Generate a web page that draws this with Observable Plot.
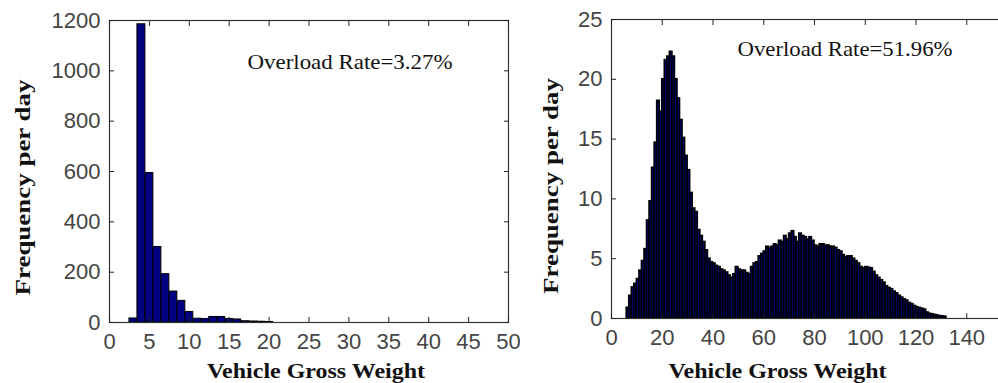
<!DOCTYPE html>
<html>
<head>
<meta charset="utf-8">
<script src="https://cdn.jsdelivr.net/npm/d3@7"></script>
<script src="https://cdn.jsdelivr.net/npm/@observablehq/plot@0.6"></script>
<style>
  html, body { margin: 0; padding: 0; background: #fff; }
  #wrap { position: relative; width: 998px; height: 383px; overflow: hidden; background: #fff; }
  #left { position: absolute; left: 0; top: 0; width: 520px; height: 383px; overflow: hidden; }
  #right { position: absolute; left: 520px; top: 0; width: 500px; height: 383px; overflow: hidden; }
  svg { overflow: hidden; }
</style>
</head>
<body>
<div id="wrap"><div id="left"></div><div id="right"></div></div>
<script>
// ---- Left panel data ----
const leftWeights = [3, 4, 5, 6, 7, 8, 9, 10, 11, 12, 13, 14, 15, 16, 17, 18, 19, 20];
const leftFreq = [16, 1185, 594, 300, 192, 123, 86, 42, 15, 14, 22, 22, 14, 12, 5, 4, 3, 2];
const leftXTicks = [0, 5, 10, 15, 20, 25, 30, 35, 40, 45, 50];
const leftYTicks = [0, 200, 400, 600, 800, 1000, 1200];
const leftNote = "Overload Rate=3.27%";

// ---- Right panel data (bins of width 1 starting at rightStart) ----
const rightStart = 6;
const rightFreq = [
  0.9, 1.9, 2.6, 2.9, 3.3, 4.0, 4.8, 5.8, 8.2, 9.8,          // 6-15
  12.6, 14.7, 18.2, 17.3, 20.0, 21.6, 21.9, 22.3, 21.9, 20.0, // 16-25
  18.4, 16.6, 15.1, 13.6, 12.4, 10.5, 9.2, 8.9, 7.4, 6.9,     // 26-35
  6.4, 5.7, 5.0, 4.7, 4.6, 4.4, 4.3, 4.1, 4.0, 3.85,          // 36-45
  3.6, 3.4, 3.7, 4.3, 4.1, 4.0, 4.0, 3.8, 3.7, 4.3,           // 46-55
  4.6, 4.7, 5.2, 5.4, 5.6, 6.0, 5.9, 6.0, 6.2, 6.1,           // 56-65
  6.5, 6.4, 6.9, 6.6, 7.1, 7.3, 6.8, 6.4, 7.1, 6.9,           // 66-75
  6.8, 6.6, 6.8, 6.5, 6.1, 6.0, 6.2, 6.2, 6.1, 6.1,           // 76-85
  6.0, 6.0, 5.9, 5.7, 5.6, 5.3, 5.1, 5.2, 5.2, 5.0,           // 86-95
  4.8, 4.6, 4.3, 4.2, 4.3, 4.25, 4.2, 3.9, 3.6, 3.4,          // 96-105
  3.2, 3.0, 2.7, 2.55, 2.45, 2.25, 2.1, 1.9, 1.75, 1.6,       // 106-115
  1.5, 1.3, 1.2, 1.05, 0.95, 0.88, 0.82, 0.75, 0.5, 0.4,      // 116-125
  0.35, 0.3, 0.25, 0.2, 0.18, 0.15                            // 126-131
];
const rightXTicks = [0, 20, 40, 60, 80, 100, 120, 140];
const rightYTicks = [0, 5, 10, 15, 20, 25];
const rightNote = "Overload Rate=51.96%";

const xTitle = "Vehicle Gross Weight";
const yTitle = "Frequency per day";

const barFill = "#000080";
const serif = "'Liberation Serif', 'Times New Roman', serif";
const sans = "'Liberation Sans', Arial, sans-serif";

const leftData = leftWeights.map((w, i) => ({w, f: leftFreq[i]}));
const rightData = rightFreq.map((f, i) => ({w: rightStart + i, f}));

function axes(xt, yt) {
  return [
    Plot.frame({stroke: "#333", strokeWidth: 1.2}),
    Plot.axisX({anchor: "bottom", ticks: xt, tickSize: -5, tickPadding: 16, tickFormat: d => String(d), label: null, stroke: "#222", fill: "#444"}),
    Plot.axisX({anchor: "top", ticks: xt, tickSize: -5, tickFormat: () => "", label: null, stroke: "#222"}),
    Plot.axisY({anchor: "left", ticks: yt, tickSize: -5, tickPadding: 14, tickFormat: d => String(d), label: null, stroke: "#222", fill: "#444"}),
    Plot.axisY({anchor: "right", ticks: yt, tickSize: -5, tickFormat: () => "", label: null, stroke: "#222"})
  ];
}

const left = Plot.plot({
  width: 520, height: 383,
  marginLeft: 109, marginRight: 12, marginTop: 20, marginBottom: 61,
  x: {domain: [0, 50]},
  y: {domain: [0, 1200]},
  style: {fontFamily: sans, fontSize: "22px", background: "transparent"},
  marks: [
    Plot.rectY(leftData, {x1: d => d.w - 0.5, x2: d => d.w + 0.5, y: "f", fill: barFill, stroke: "#000", strokeWidth: 1}),
    ...axes(leftXTicks, leftYTicks),
    Plot.text([leftNote], {frameAnchor: "top-left", text: d => d, dx: 138, dy: 48, lineAnchor: "bottom", textAnchor: "start", fontFamily: serif, fontSize: 22, fill: "#111"}),
    Plot.text([xTitle], {frameAnchor: "bottom", text: d => d, dx: 7, dy: 55, lineAnchor: "bottom", textAnchor: "middle", fontFamily: serif, fontWeight: "bold", fontSize: 22, fill: "#111"}),
    Plot.text([yTitle], {frameAnchor: "left", text: d => d, dx: -87, dy: 16, rotate: -90, textAnchor: "middle", fontFamily: serif, fontWeight: "bold", fontSize: 22, fill: "#111"})
  ]
});
document.getElementById("left").appendChild(left);

const right = Plot.plot({
  width: 500, height: 383,
  marginLeft: 91, marginRight: 3, marginTop: 19, marginBottom: 65,
  x: {domain: [0, 160]},
  y: {domain: [0, 25]},
  style: {fontFamily: sans, fontSize: "22px", background: "transparent"},
  marks: [
    Plot.rectY(rightData, {x1: d => d.w, x2: d => d.w + 1, y: "f", fill: barFill, stroke: "#000", strokeWidth: 1.6}),
    ...axes(rightXTicks, rightYTicks),
    Plot.text([rightNote], {frameAnchor: "top-left", text: d => d, dx: 126, dy: 36, lineAnchor: "bottom", textAnchor: "start", fontFamily: serif, fontSize: 22, fill: "#111"}),
    Plot.text([xTitle], {frameAnchor: "bottom-left", text: d => d, dx: 166, dy: 59, lineAnchor: "bottom", textAnchor: "middle", fontFamily: serif, fontWeight: "bold", fontSize: 22, fill: "#111"}),
    Plot.text([yTitle], {frameAnchor: "left", text: d => d, dx: -61, dy: 17, rotate: -90, textAnchor: "middle", fontFamily: serif, fontWeight: "bold", fontSize: 22, fill: "#111"})
  ]
});
document.getElementById("right").appendChild(right);

// Stretch serif texts to the widths seen in the reference
const stretch = {};
stretch[xTitle] = 218;
stretch[yTitle] = 216;
stretch[leftNote] = 205;
stretch[rightNote] = 215;
d3.selectAll("#wrap svg text").each(function () {
  const t = this.textContent;
  if (stretch[t]) {
    d3.select(this).attr("textLength", stretch[t]).attr("lengthAdjust", "spacingAndGlyphs");
  }
});
</script>
</body>
</html>
